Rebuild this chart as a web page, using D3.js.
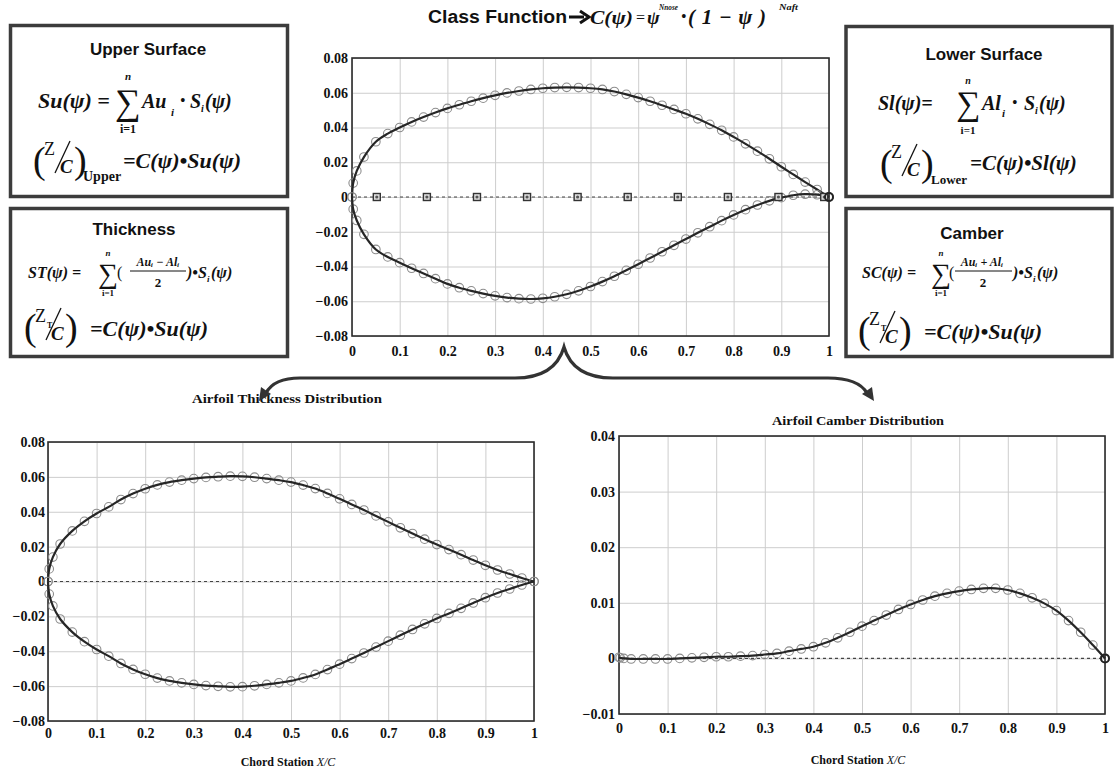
<!DOCTYPE html>
<html>
<head>
<meta charset="utf-8">
<script src="https://cdn.jsdelivr.net/npm/d3@7"></script>
<style>
  body { margin: 0; background: #fff; }
  svg { display: block; }
  .tick text { font-family: "Liberation Serif", "Times New Roman", serif; font-weight: bold; font-size: 14px; fill: #111; }
</style>
</head>
<body>
<svg id="fig" width="1117" height="770"></svg>
<script>
// Chord stations (x/c) shared by all distributions
const stations = [0, 0.0025, 0.01, 0.025, 0.05, 0.075, 0.1, 0.125, 0.15, 0.175, 0.2, 0.225, 0.25, 0.275,
  0.3, 0.325, 0.35, 0.375, 0.4, 0.425, 0.45, 0.475, 0.5, 0.525, 0.55, 0.575, 0.6, 0.625, 0.65, 0.675,
  0.7, 0.725, 0.75, 0.775, 0.8, 0.825, 0.85, 0.875, 0.9, 0.925, 0.95, 0.975, 1];

// Upper and lower surface ordinates (Z/C)
const upperSurface = [0, 0.0080, 0.0150, 0.0230, 0.0318, 0.0365, 0.0400, 0.0432, 0.0460, 0.0486, 0.0510, 0.0531, 0.0551, 0.0569,
  0.0585, 0.0599, 0.0610, 0.0619, 0.0626, 0.0630, 0.0631, 0.0630, 0.0626, 0.0619, 0.0607, 0.0591, 0.0572, 0.0551, 0.0528, 0.0504,
  0.0479, 0.0450, 0.0418, 0.0384, 0.0346, 0.0306, 0.0264, 0.0220, 0.0174, 0.0130, 0.0086, 0.0043, 0];
const lowerSurface = [0, -0.0070, -0.0135, -0.0215, -0.0302, -0.0345, -0.0378, -0.0410, -0.0440, -0.0470, -0.0500, -0.0522, -0.0540, -0.0556,
  -0.0569, -0.0579, -0.0585, -0.0587, -0.0583, -0.0574, -0.0560, -0.0540, -0.0515, -0.0487, -0.0456, -0.0422, -0.0387, -0.0351, -0.0315, -0.0278,
  -0.0242, -0.0206, -0.0171, -0.0136, -0.0103, -0.0073, -0.0046, -0.0022, -0.0004, 0.0010, 0.0016, 0.0013, 0];

// Thickness distribution (+ / - half thickness)
const thicknessUpper = [0, 0.0072, 0.0140, 0.0215, 0.0290, 0.0345, 0.0390, 0.0428, 0.0470, 0.0504, 0.0532, 0.0554, 0.0570, 0.0581,
  0.0590, 0.0597, 0.0601, 0.0604, 0.0603, 0.0598, 0.0590, 0.0581, 0.0570, 0.0553, 0.0533, 0.0505, 0.0474, 0.0442, 0.0410, 0.0376,
  0.0342, 0.0308, 0.0275, 0.0243, 0.0212, 0.0183, 0.0154, 0.0123, 0.0093, 0.0066, 0.0043, 0.0020, 0];
const thicknessLower = [0, -0.0072, -0.0140, -0.0215, -0.0290, -0.0345, -0.0390, -0.0428, -0.0470, -0.0504, -0.0532, -0.0554, -0.0570, -0.0581,
  -0.0590, -0.0597, -0.0601, -0.0604, -0.0603, -0.0598, -0.0590, -0.0581, -0.0570, -0.0553, -0.0533, -0.0505, -0.0474, -0.0442, -0.0410, -0.0376,
  -0.0342, -0.0308, -0.0275, -0.0243, -0.0212, -0.0183, -0.0154, -0.0123, -0.0093, -0.0066, -0.0043, -0.0020, 0];

// Camber line
const camberLine = [0.0002, 0.0001, 0.0000, -0.0001, -0.0001, -0.0001, -0.0001, 0.0000, 0.0001, 0.0002, 0.0003, 0.0003, 0.0004, 0.0005,
  0.0007, 0.0009, 0.0013, 0.0017, 0.0021, 0.0028, 0.0037, 0.0047, 0.0058, 0.0068, 0.0078, 0.0088, 0.0097, 0.0105, 0.0112, 0.0117,
  0.0121, 0.0124, 0.0126, 0.0126, 0.0123, 0.0117, 0.0109, 0.0099, 0.0086, 0.0068, 0.0047, 0.0024, 0];

// Shape-function control stations on the chord line
const controlStations = [0.052, 0.157, 0.262, 0.367, 0.473, 0.578, 0.683, 0.788, 0.894, 0.99];
const controlValues = [0, 0, 0, 0, 0, 0, 0, 0, 0, 0];

// Axis ticks
const xTickValues = [0, 0.1, 0.2, 0.3, 0.4, 0.5, 0.6, 0.7, 0.8, 0.9, 1];
const xTickLabels = ["0", "0.1", "0.2", "0.3", "0.4", "0.5", "0.6", "0.7", "0.8", "0.9", "1"];
const yTickValuesAirfoil = [-0.08, -0.06, -0.04, -0.02, 0, 0.02, 0.04, 0.06, 0.08];
const yTickLabelsAirfoil = ["\u22120.08", "\u22120.06", "\u22120.04", "\u22120.02", "0", "0.02", "0.04", "0.06", "0.08"];
const yTickValuesCamber = [-0.01, 0, 0.01, 0.02, 0.03, 0.04];
const yTickLabelsCamber = ["\u22120.01", "0", "0.01", "0.02", "0.03", "0.04"];

const SERIF = '"Liberation Serif", "Times New Roman", serif';
const SANS = '"Liberation Sans", Arial, sans-serif';
const svg = d3.select("#fig");

// ---------- chart panels ----------
function panel(cfg) {
  const x = d3.scaleLinear().domain([0, 1]).range([cfg.x0, cfg.x1]);
  const y = d3.scaleLinear().domain(cfg.yDomain).range([cfg.y1, cfg.y0]);
  const g = svg.append("g");
  const w = cfg.x1 - cfg.x0, h = cfg.y1 - cfg.y0;

  g.append("g").attr("transform", `translate(0,${cfg.y1})`)
    .call(d3.axisBottom(x).tickValues(xTickValues).tickSize(-h).tickFormat(""))
    .call(a => a.select(".domain").remove())
    .selectAll("line").attr("stroke", "#cdcdcd").attr("stroke-width", 1);
  g.append("g").attr("transform", `translate(${cfg.x0},0)`)
    .call(d3.axisLeft(y).tickValues(cfg.yTicks).tickSize(-w).tickFormat(""))
    .call(a => a.select(".domain").remove())
    .selectAll("line").attr("stroke", "#cdcdcd").attr("stroke-width", 1);

  g.append("rect").attr("x", cfg.x0).attr("y", cfg.y0).attr("width", w).attr("height", h)
    .attr("fill", "none").attr("stroke", "#2b2b2b").attr("stroke-width", 1.6);

  g.append("g").attr("transform", `translate(0,${cfg.y1})`)
    .call(d3.axisBottom(x).tickValues(xTickValues).tickSize(0).tickPadding(cfg.xPad)
      .tickFormat((d, i) => xTickLabels[i]))
    .call(a => a.select(".domain").remove());
  g.append("g").attr("transform", `translate(${cfg.x0},0)`)
    .call(d3.axisLeft(y).tickValues(cfg.yTicks).tickSize(0).tickPadding(cfg.yPad)
      .tickFormat((d, i) => cfg.yLabels[i]))
    .call(a => a.select(".domain").remove());

  // chord line
  g.append("line").attr("x1", cfg.x0).attr("x2", cfg.x1).attr("y1", y(0)).attr("y2", y(0))
    .attr("stroke", "#444").attr("stroke-width", 1.2).attr("stroke-dasharray", "3,3");
  return { x, y, g };
}

function curve(p, xs, ys) {
  const pts = xs.map((v, i) => [v, ys[i]]);
  p.g.append("g").selectAll("circle").data(pts).join("circle")
    .attr("cx", d => p.x(d[0])).attr("cy", d => p.y(d[1])).attr("r", 4.3)
    .attr("fill", "none").attr("stroke", "#8c8c8c").attr("stroke-width", 1.1);
  p.g.append("path").datum(pts)
    .attr("d", d3.line().x(d => p.x(d[0])).y(d => p.y(d[1])).curve(d3.curveCatmullRom))
    .attr("fill", "none").attr("stroke", "#262626").attr("stroke-width", 2.2);
}

// Class-function airfoil
const pTop = panel({ x0: 352, x1: 829, y0: 58, y1: 336, yDomain: [-0.08, 0.08],
  yTicks: yTickValuesAirfoil, yLabels: yTickLabelsAirfoil, xPad: 10, yPad: 4 });
curve(pTop, stations, upperSurface);
curve(pTop, stations, lowerSurface);
pTop.g.append("g").selectAll("g").data(controlStations.map((v, i) => [v, controlValues[i]])).join("g")
  .attr("transform", d => `translate(${pTop.x(d[0])},${pTop.y(d[1])})`)
  .call(s => {
    s.append("rect").attr("x", -3.5).attr("y", -3.5).attr("width", 7).attr("height", 7)
      .attr("fill", "#ddd").attr("stroke", "#333").attr("stroke-width", 1.4);
    s.append("circle").attr("r", 1.6).attr("fill", "#555");
  });
pTop.g.append("circle").attr("cx", pTop.x(1)).attr("cy", pTop.y(0)).attr("r", 4)
  .attr("fill", "none").attr("stroke", "#222").attr("stroke-width", 2);

// Thickness distribution
const pThk = panel({ x0: 48, x1: 534, y0: 442, y1: 721, yDomain: [-0.08, 0.08],
  yTicks: yTickValuesAirfoil, yLabels: yTickLabelsAirfoil, xPad: 7, yPad: 3 });
curve(pThk, stations, thicknessUpper);
curve(pThk, stations, thicknessLower);

// Camber distribution
const pCam = panel({ x0: 619, x1: 1105, y0: 436, y1: 714, yDomain: [-0.01, 0.04],
  yTicks: yTickValuesCamber, yLabels: yTickLabelsCamber, xPad: 9, yPad: 4 });
curve(pCam, stations, camberLine);
pCam.g.append("circle").attr("cx", pCam.x(1)).attr("cy", pCam.y(0)).attr("r", 4)
  .attr("fill", "none").attr("stroke", "#222").attr("stroke-width", 2);

// ---------- text helpers ----------
function txt(x, y, s, size, o = {}) {
  const t = svg.append("text").attr("x", x).attr("y", y)
    .attr("font-family", o.fam || SERIF).attr("font-size", size)
    .attr("font-weight", o.w || "bold").attr("font-style", o.it ? "italic" : "normal")
    .attr("text-anchor", o.a || "start").attr("fill", o.fill || "#111").text(s);
  if (o.len) t.attr("textLength", o.len).attr("lengthAdjust", o.adj || "spacingAndGlyphs");
  return t;
}
function seg(x1, y1, x2, y2, wdt = 1.4) {
  svg.append("line").attr("x1", x1).attr("y1", y1).attr("x2", x2).attr("y2", y2)
    .attr("stroke", "#111").attr("stroke-width", wdt);
}

// chart titles
txt(287, 403, "Airfoil Thickness Distribution", 13, { a: "middle", len: 190 });
txt(858, 425, "Airfoil Camber Distribution", 13, { a: "middle", len: 172 });
function chordLabel(cx, y) {
  const t = svg.append("text").attr("x", cx).attr("y", y).attr("text-anchor", "middle")
    .attr("font-family", SERIF).attr("font-size", 12).attr("fill", "#111");
  t.append("tspan").attr("font-weight", "bold").text("Chord Station ");
  t.append("tspan").attr("font-style", "italic").text("X/C");
}
chordLabel(288, 766);
chordLabel(858, 764);

// ---------- formula boxes ----------
function box(x, y, w, h) {
  svg.append("rect").attr("x", x).attr("y", y).attr("width", w).attr("height", h)
    .attr("fill", "#fff").attr("stroke", "#3c3c3c").attr("stroke-width", 3.5);
}
box(10.5, 25.5, 277, 171);
box(10.5, 208.5, 277, 148);
box(846, 26.5, 266, 170);
box(846, 208.5, 266, 148);

// big parenthesised Z/C fraction
function zOverC(x, y, sub) {
  txt(x, y + 10, "(", 38, { w: "normal" });
  txt(x + 11, y - 8, "Z", 18, { w: "normal" });
  if (sub) txt(x + 23, y - 2, "T", 8, { w: "bold" });
  seg(x + 22, y + 10, x + 37, y - 22, 1.3);
  txt(x + 27, y + 10, "C", 19, { it: true });
  txt(x + 41, y + 10, ")", 38, { w: "normal" });
}

// Upper surface
txt(148, 55, "Upper Surface", 17, { fam: SANS, a: "middle" });
txt(38, 108, "Su(\u03c8) =", 22, { it: true });
txt(115, 114, "\u2211", 36, { w: "normal" });
txt(128, 80, "n", 11, { it: true, a: "middle" });
txt(128, 133, "i=1", 12, { a: "middle" });
txt(142, 108, "Au", 20, { it: true });
txt(171, 116, "i", 11, { it: true });
txt(180, 106, "\u2022", 16, { w: "normal" });
txt(190, 108, "S", 20, { it: true });
txt(201, 112, "i", 10, { it: true });
txt(205, 108, "(\u03c8)", 20, { it: true });
zOverC(33, 163, false);
txt(83, 181, "Upper", 14);
txt(123, 168, "=C(\u03c8)\u2022Su(\u03c8)", 22, { it: true });

// Thickness
txt(134, 235, "Thickness", 17, { fam: SANS, a: "middle" });
txt(28, 278, "ST(\u03c8) =", 16, { it: true });
txt(98, 283, "\u2211", 28, { w: "normal" });
txt(108, 256, "n", 9, { it: true, a: "middle" });
txt(108, 296, "i=1", 9, { a: "middle" });
txt(117, 278, "(", 16, { w: "normal" });
txt(158, 266, "Au\u1d62 \u2212 Al\u1d62", 12, { it: true, a: "middle" });
seg(130, 271, 186, 271, 1);
txt(158, 287, "2", 13, { a: "middle" });
txt(187, 278, ")\u2022S", 16, { it: true });
txt(207, 282, "i", 9, { it: true });
txt(211, 278, "(\u03c8)", 16, { it: true });
zOverC(24, 330, true);
txt(90, 336, "=C(\u03c8)\u2022Su(\u03c8)", 22, { it: true });

// Lower surface
txt(984, 60, "Lower Surface", 17, { fam: SANS, a: "middle" });
txt(878, 110, "Sl(\u03c8)=", 20, { it: true });
txt(956, 115, "\u2211", 34, { w: "normal" });
txt(968, 84, "n", 10, { it: true, a: "middle" });
txt(968, 134, "i=1", 11, { a: "middle" });
txt(982, 110, "Al", 20, { it: true });
txt(1002, 117, "i", 11, { it: true });
txt(1012, 108, "\u2022", 16, { w: "normal" });
txt(1024, 110, "S", 20, { it: true });
txt(1035, 114, "i", 10, { it: true });
txt(1039, 110, "(\u03c8)", 20, { it: true });
zOverC(880, 166, false);
txt(931, 184, "Lower", 13);
txt(970, 170, "=C(\u03c8)\u2022Sl(\u03c8)", 21, { it: true });

// Camber
txt(972, 239, "Camber", 17, { fam: SANS, a: "middle" });
txt(862, 278, "SC(\u03c8) =", 16, { it: true });
txt(931, 283, "\u2211", 28, { w: "normal" });
txt(941, 256, "n", 9, { it: true, a: "middle" });
txt(941, 296, "i=1", 9, { a: "middle" });
txt(949, 278, "(", 16, { w: "normal" });
txt(982, 266, "Au\u1d62 + Al\u1d62", 12, { it: true, a: "middle" });
seg(955, 271, 1012, 271, 1);
txt(983, 287, "2", 13, { a: "middle" });
txt(1013, 278, ")\u2022S", 16, { it: true });
txt(1033, 282, "i", 9, { it: true });
txt(1037, 278, "(\u03c8)", 16, { it: true });
zOverC(858, 333, true);
txt(924, 339, "=C(\u03c8)\u2022Su(\u03c8)", 22, { it: true });

// ---------- class function heading ----------
txt(428, 23, "Class Function", 18, { fam: SANS, len: 139 });
svg.append("path").attr("d", "M569,17 L584,17 M580,11 L589,17 L580,23")
  .attr("fill", "none").attr("stroke", "#111").attr("stroke-width", 3);
txt(590, 24, "C(\u03c8)", 19, { it: true, len: 43 });
txt(636, 23, "=", 16, { w: "normal" });
txt(647, 24, "\u03c8", 19, { it: true });
txt(659, 10, "Nnose", 9, { it: true, len: 19 });
txt(681, 22, "\u2022", 16, { w: "normal" });
txt(688, 24, "(1\u2212\u03c8)", 21, { it: true, len: 78, adj: "spacing" });
txt(779, 10, "Naft", 9, { it: true, len: 19 });

// ---------- brace with arrows ----------
svg.append("path")
  .attr("d", "M266,393 Q274,378 300,378 L515,378 Q555,378 564,347 Q573,378 613,378 L828,378 Q858,378 867,393")
  .attr("fill", "none").attr("stroke", "#333").attr("stroke-width", 3.2);
svg.append("path").attr("d", "M259,401 L261,387 L271,394 Z").attr("fill", "#333");
svg.append("path").attr("d", "M874,401 L862,394 L872,387 Z").attr("fill", "#333");
</script>
</body>
</html>
